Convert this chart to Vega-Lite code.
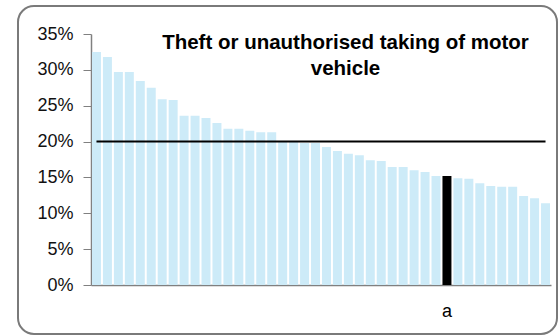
{
  "$schema": "https://vega.github.io/schema/vega-lite/v6.json",
  "autosize": {"type": "none"},
  "padding": {"left": 18, "top": 6, "right": 2, "bottom": 2},
  "width": 539,
  "height": 328,
  "background": "white",
  "config": {
    "font": "Liberation Sans",
    "view": {"stroke": "#7a7a7a", "strokeWidth": 2, "cornerRadius": 16, "fill": "white"}
  },
  "title": {
    "text": ["Theft or unauthorised taking of motor", "vehicle"],
    "font": "Liberation Sans",
    "fontSize": 20.5,
    "fontWeight": "bold",
    "lineHeight": 26,
    "color": "#000000",
    "anchor": "middle",
    "frame": "group",
    "dx": 58,
    "offset": -73
  },
  "data": {
    "values": [
      {"cat": "c1", "v": 0.325},
      {"cat": "c2", "v": 0.318},
      {"cat": "c3", "v": 0.297},
      {"cat": "c4", "v": 0.297},
      {"cat": "c5", "v": 0.2845},
      {"cat": "c6", "v": 0.275},
      {"cat": "c7", "v": 0.259},
      {"cat": "c8", "v": 0.258},
      {"cat": "c9", "v": 0.236},
      {"cat": "c10", "v": 0.236},
      {"cat": "c11", "v": 0.233},
      {"cat": "c12", "v": 0.226},
      {"cat": "c13", "v": 0.218},
      {"cat": "c14", "v": 0.218},
      {"cat": "c15", "v": 0.215},
      {"cat": "c16", "v": 0.213},
      {"cat": "c17", "v": 0.213},
      {"cat": "c18", "v": 0.200},
      {"cat": "c19", "v": 0.200},
      {"cat": "c20", "v": 0.198},
      {"cat": "c21", "v": 0.198},
      {"cat": "c22", "v": 0.1925},
      {"cat": "c23", "v": 0.187},
      {"cat": "c24", "v": 0.183},
      {"cat": "c25", "v": 0.181},
      {"cat": "c26", "v": 0.174},
      {"cat": "c27", "v": 0.173},
      {"cat": "c28", "v": 0.1645},
      {"cat": "c29", "v": 0.1645},
      {"cat": "c30", "v": 0.160},
      {"cat": "c31", "v": 0.1575},
      {"cat": "c32", "v": 0.152},
      {"cat": "a", "v": 0.152},
      {"cat": "c34", "v": 0.149},
      {"cat": "c35", "v": 0.148},
      {"cat": "c36", "v": 0.142},
      {"cat": "c37", "v": 0.138},
      {"cat": "c38", "v": 0.137},
      {"cat": "c39", "v": 0.137},
      {"cat": "c40", "v": 0.124},
      {"cat": "c41", "v": 0.121},
      {"cat": "c42", "v": 0.114}
    ]
  },
  "encoding": {
    "x": {
      "field": "cat",
      "type": "nominal",
      "sort": null,
      "scale": {"range": [73, 533], "paddingInner": 0.18, "paddingOuter": 0.09},
      "axis": {
        "title": null,
        "offset": -49,
        "labelExpr": "datum.value == 'a' ? 'a' : ''",
        "labelAngle": 0,
        "labelFontSize": 18,
        "labelColor": "#000000",
        "labelPadding": 17,
        "ticks": false,
        "domainColor": "#808080",
        "domainWidth": 1.5,
        "grid": false
      }
    }
  },
  "layer": [
    {
      "mark": {"type": "bar"},
      "encoding": {
        "y": {
          "field": "v",
          "type": "quantitative",
          "scale": {"domain": [0, 0.35], "range": [279, 28], "nice": false},
          "axis": {
            "title": null,
            "offset": -73,
            "format": ".0%",
            "values": [0, 0.05, 0.1, 0.15, 0.2, 0.25, 0.3, 0.35],
            "labelFontSize": 18,
            "labelColor": "#111111",
            "labelPadding": 10,
            "tickSize": 8,
            "tickColor": "#808080",
            "domainColor": "#808080",
            "domainWidth": 1.5,
            "grid": false
          }
        },
        "color": {
          "condition": {"test": "datum.cat == 'a'", "value": "#000000"},
          "value": "#cdebf8"
        }
      }
    },
    {
      "mark": {"type": "line", "color": "#000000", "strokeWidth": 2},
      "encoding": {
        "y": {"datum": 0.2, "type": "quantitative"}
      }
    }
  ]
}
